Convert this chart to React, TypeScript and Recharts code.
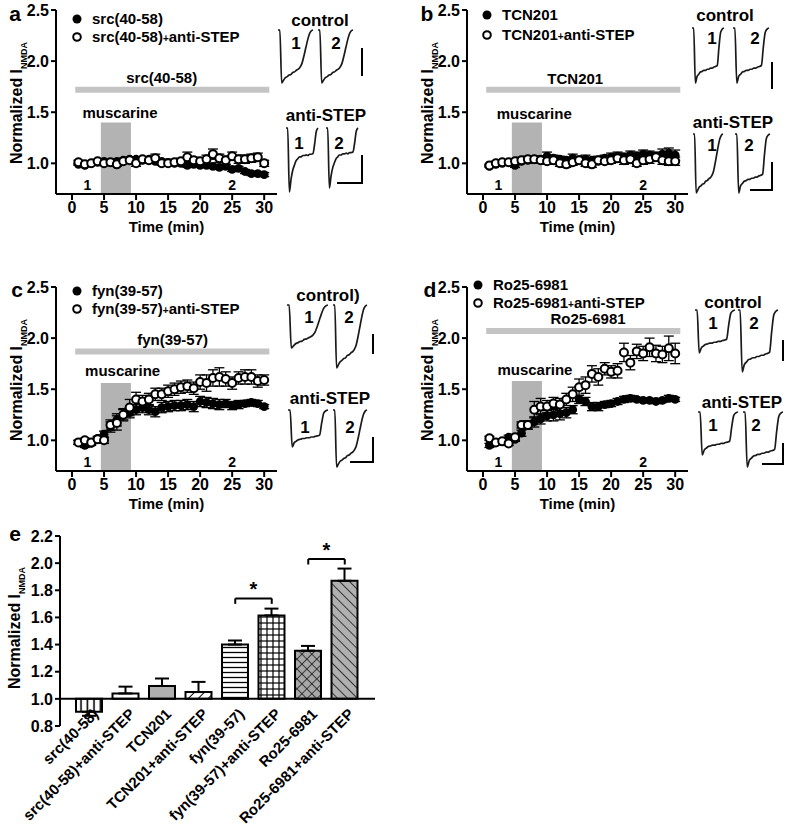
import React from 'react';
import {
  ComposedChart,
  Scatter,
  ErrorBar,
  XAxis,
  YAxis,
  ReferenceArea,
  ReferenceLine,
  ReferenceDot,
  LineChart,
  Line,
  BarChart,
  Bar,
  Cell,
} from 'recharts';

const FONT = '"Liberation Sans", Arial, sans-serif';

// time points (min)
const minutes = [1, 2, 3, 4, 5, 6, 7, 8, 9, 10, 11, 12, 13, 14, 15, 16, 17, 18, 19, 20, 21, 22, 23, 24, 25, 26, 27, 28, 29, 30];

// panel a
const srcMean = [0.99, 0.98, 1.0, 1.01, 1.02, 1.01, 1.02, 1.03, 1.04, 1.04, 1.03, 1.04, 1.02, 1.02, 1.01, 1.0, 1.0, 0.98, 0.99, 0.98, 0.98, 0.97, 0.96, 0.97, 0.94, 0.95, 0.92, 0.9, 0.9, 0.89];
const srcErr = [0.01, 0.01, 0.01, 0.02, 0.01, 0.02, 0.02, 0.02, 0.02, 0.02, 0.02, 0.02, 0.02, 0.02, 0.02, 0.02, 0.02, 0.02, 0.02, 0.02, 0.02, 0.02, 0.02, 0.02, 0.02, 0.02, 0.02, 0.02, 0.02, 0.02];
const srcStepMean = [1.01, 0.99, 1.0, 1.02, 1.0, 1.01, 0.99, 1.02, 1.03, 1.0, 1.04, 1.03, 1.05, 1.0, 1.0, 1.01, 1.02, 1.06, 1.03, 1.02, 1.04, 1.09, 1.05, 1.03, 1.07, 1.04, 1.04, 1.05, 1.06, 1.0];
const srcStepErr = [0.02, 0.02, 0.02, 0.02, 0.02, 0.02, 0.02, 0.02, 0.02, 0.03, 0.02, 0.03, 0.04, 0.02, 0.02, 0.03, 0.03, 0.05, 0.03, 0.03, 0.04, 0.05, 0.04, 0.04, 0.04, 0.04, 0.04, 0.04, 0.04, 0.03];

// panel b
const tcnMean = [0.97, 0.99, 1.0, 1.01, 0.98, 1.02, 1.03, 1.04, 1.04, 1.07, 1.05, 1.04, 1.03, 1.05, 1.03, 1.04, 1.03, 1.02, 1.05, 1.06, 1.07, 1.06, 1.08, 1.07, 1.09, 1.08, 1.07, 1.09, 1.1, 1.08];
const tcnErr = [0.01, 0.01, 0.02, 0.02, 0.02, 0.02, 0.03, 0.03, 0.03, 0.04, 0.03, 0.03, 0.03, 0.04, 0.03, 0.04, 0.03, 0.03, 0.03, 0.04, 0.04, 0.04, 0.04, 0.04, 0.04, 0.04, 0.04, 0.05, 0.05, 0.05];
const tcnStepMean = [0.98, 1.0, 1.01, 1.01, 1.02, 1.03, 1.04, 1.04, 1.03, 1.02, 1.03, 1.0, 0.99, 1.01, 1.03, 1.0, 0.99, 1.03, 1.02, 1.03, 1.05, 1.03, 1.04, 1.0, 1.03, 1.04, 1.06, 1.03, 1.02, 1.02];
const tcnStepErr = [0.01, 0.02, 0.02, 0.02, 0.02, 0.03, 0.03, 0.03, 0.03, 0.03, 0.03, 0.03, 0.03, 0.03, 0.04, 0.03, 0.03, 0.04, 0.03, 0.03, 0.04, 0.04, 0.04, 0.03, 0.04, 0.04, 0.04, 0.04, 0.04, 0.04];

// panel c
const fynMean = [0.98, 0.95, 0.97, 1.02, 1.06, 1.13, 1.2, 1.25, 1.27, 1.3, 1.32, 1.3, 1.28, 1.32, 1.33, 1.34, 1.34, 1.35, 1.33, 1.38, 1.37, 1.36, 1.35, 1.36, 1.34, 1.35, 1.36, 1.37, 1.36, 1.33];
const fynErr = [0.02, 0.02, 0.02, 0.02, 0.03, 0.05, 0.06, 0.05, 0.05, 0.05, 0.05, 0.05, 0.05, 0.05, 0.05, 0.05, 0.05, 0.05, 0.05, 0.05, 0.05, 0.05, 0.05, 0.04, 0.04, 0.04, 0.03, 0.03, 0.03, 0.02];
const fynStepMean = [0.98, 1.0, 0.98, 1.01, 1.0, 1.15, 1.17, 1.25, 1.32, 1.4, 1.38, 1.4, 1.45, 1.45, 1.48, 1.5, 1.52, 1.53, 1.51, 1.57, 1.56, 1.61, 1.62, 1.6, 1.56, 1.61, 1.62, 1.62, 1.58, 1.59];
const fynStepErr = [0.02, 0.02, 0.02, 0.02, 0.03, 0.05, 0.07, 0.06, 0.08, 0.07, 0.06, 0.06, 0.06, 0.06, 0.06, 0.06, 0.06, 0.06, 0.06, 0.07, 0.08, 0.08, 0.09, 0.07, 0.06, 0.06, 0.07, 0.07, 0.06, 0.05];

// panel d
const roMean = [0.95, 0.98, 0.99, 1.03, 1.01, 1.07, 1.15, 1.18, 1.21, 1.24, 1.25, 1.26, 1.27, 1.3, 1.4, 1.38, 1.33, 1.33, 1.35, 1.36, 1.38, 1.4, 1.41, 1.4, 1.39, 1.39, 1.38, 1.39, 1.41, 1.4];
const roErr = [0.02, 0.02, 0.02, 0.02, 0.02, 0.03, 0.04, 0.05, 0.05, 0.05, 0.06, 0.06, 0.05, 0.04, 0.04, 0.04, 0.04, 0.04, 0.03, 0.03, 0.03, 0.03, 0.03, 0.02, 0.02, 0.02, 0.02, 0.02, 0.03, 0.02];
const roStepMean = [1.02, 0.98, 0.99, 0.97, 1.03, 1.15, 1.15, 1.3, 1.33, 1.33, 1.36, 1.35, 1.4, 1.45, 1.52, 1.54, 1.65, 1.62, 1.7, 1.67, 1.68, 1.86, 1.76, 1.87, 1.85, 1.91, 1.85, 1.84, 1.9, 1.85];
const roStepErr = [0.02, 0.02, 0.02, 0.02, 0.03, 0.03, 0.04, 0.08, 0.08, 0.06, 0.06, 0.06, 0.06, 0.07, 0.08, 0.08, 0.08, 0.08, 0.06, 0.06, 0.07, 0.09, 0.07, 0.07, 0.07, 0.09, 0.08, 0.08, 0.12, 0.1];

// panel e
const groups = ['src(40-58)', 'src(40-58)+anti-STEP', 'TCN201', 'TCN201+anti-STEP', 'fyn(39-57)', 'fyn(39-57)+anti-STEP', 'Ro25-6981', 'Ro25-6981+anti-STEP'];
const groupMean = [0.905, 1.04, 1.095, 1.05, 1.4, 1.615, 1.355, 1.87];
const groupErr = [0.03, 0.05, 0.055, 0.075, 0.03, 0.05, 0.035, 0.09];

// example current traces (normalized amplitude)
const traceSlow = [0, 0, -1, -0.95, -0.9, -0.88, -0.85, -0.84, -0.8, -0.79, -0.76, -0.74, -0.7, -0.63, -0.5, -0.35, -0.2, -0.08, -0.02, 0];
const traceDecay = [0, 0, -1, -0.8, -0.66, -0.58, -0.51, -0.48, -0.45, -0.45, -0.43, -0.43, -0.42, -0.43, -0.41, -0.41, -0.4, -0.25, -0.05, 0];
const traceFlat = [0, 0, -1, -0.88, -0.84, -0.8, -0.79, -0.77, -0.77, -0.75, -0.75, -0.73, -0.73, -0.71, -0.7, -0.68, -0.35, -0.08, -0.02, 0];

const rows = (mean: number[], err: number[]) => minutes.map((t, i) => ({ t, v: mean[i], e: err[i] }));
const traceRows = (vals: number[]) => vals.map((v, i) => ({ i, v }));

const barFills = ['url(#pVert)', '#ffffff', '#b0b0b0', 'url(#pFwd)', 'url(#pHoriz)', 'url(#pGrid)', 'url(#pCross)', 'url(#pBack)'];

const tickStyle = { fontSize: 16, fontWeight: 700, fill: '#000', fontFamily: FONT };

const FilledDot = (p: any) => <circle cx={p.cx} cy={p.cy} r={4.4} fill="#000" />;
const OpenDot = (p: any) => <circle cx={p.cx} cy={p.cy} r={4} fill="#fff" stroke="#000" strokeWidth={2} />;

const textLabel = (value: string, size = 15) => ({
  value,
  position: 'center' as const,
  fill: '#000',
  fontSize: size,
  fontWeight: 700,
  fontFamily: FONT,
});

interface TraceSpec {
  vals: number[];
  x: number;
  y: number;
  w: number;
  h: number;
}

const Trace = ({ vals, x, y, w, h }: TraceSpec) => (
  <div style={{ position: 'absolute', left: x, top: y }}>
    <LineChart width={w} height={h} data={traceRows(vals)} margin={{ top: 1, right: 1, bottom: 1, left: 1 }}>
      <XAxis dataKey="i" type="number" domain={['dataMin', 'dataMax']} hide />
      <YAxis type="number" domain={[-1, 0]} hide />
      <Line dataKey="v" type="monotone" stroke="#1a1a1a" strokeWidth={1.7} dot={false} isAnimationActive={false} />
    </LineChart>
  </div>
);

interface PanelProps {
  left: number;
  top: number;
  filled: { t: number; v: number; e: number }[];
  open: { t: number; v: number; e: number }[];
  drug: string;
  drugX: number;
  drugLabelY: number;
  drugBarY: number;
  muscTop: number;
  muscX: number;
  muscLabelY: number;
}

const TimePanel = (p: PanelProps) => (
  <div style={{ position: 'absolute', left: p.left, top: p.top }}>
    <ComposedChart width={330} height={240} margin={{ top: 10, right: 53, bottom: 0, left: 8 }}>
      <XAxis
        dataKey="t"
        type="number"
        domain={[-2.5, 32]}
        ticks={[0, 5, 10, 15, 20, 25, 30]}
        allowDataOverflow
        height={46}
        tickSize={6}
        axisLine={{ stroke: '#000', strokeWidth: 2 }}
        tickLine={{ stroke: '#000', strokeWidth: 2 }}
        tick={tickStyle}
        label={{ value: 'Time (min)', position: 'insideBottom', offset: 8, fill: '#000', fontSize: 15, fontWeight: 700, fontFamily: FONT }}
      />
      <YAxis
        type="number"
        domain={[0.7, 2.5]}
        ticks={[1.0, 1.5, 2.0, 2.5]}
        allowDataOverflow
        width={48}
        tickSize={5}
        tickFormatter={(v: number) => v.toFixed(1)}
        axisLine={{ stroke: '#000', strokeWidth: 2 }}
        tickLine={{ stroke: '#000', strokeWidth: 2 }}
        tick={tickStyle}
      />
      <ReferenceArea x1={4.5} x2={9.2} y1={0.7} y2={p.muscTop} fill="#b3b3b3" fillOpacity={1} stroke="none" />
      <ReferenceLine
        segment={[{ x: 0.5, y: p.drugBarY }, { x: 30.8, y: p.drugBarY }]}
        stroke="#c4c4c4"
        strokeWidth={6}
      />
      <ReferenceDot x={p.drugX} y={p.drugLabelY} r={0} fill="none" stroke="none" label={textLabel(p.drug)} />
      <ReferenceDot x={p.muscX} y={p.muscLabelY} r={0} fill="none" stroke="none" label={textLabel('muscarine')} />
      <ReferenceDot x={2.4} y={0.79} r={0} fill="none" stroke="none" label={textLabel('1', 14)} />
      <ReferenceDot x={25} y={0.79} r={0} fill="none" stroke="none" label={textLabel('2', 14)} />
      <Scatter data={p.filled} dataKey="v" shape={FilledDot} isAnimationActive={false}>
        <ErrorBar dataKey="e" direction="y" width={5} stroke="#000" strokeWidth={1.3} />
      </Scatter>
      <Scatter data={p.open} dataKey="v" shape={OpenDot} isAnimationActive={false}>
        <ErrorBar dataKey="e" direction="y" width={5} stroke="#000" strokeWidth={1.3} />
      </Scatter>
    </ComposedChart>
  </div>
);

const YTitle = ({ x, y }: { x: number; y: number }) => (
  <text transform={`translate(${x} ${y}) rotate(-90)`} textAnchor="middle" fontSize={16} fontWeight={700} fontFamily={FONT} fill="#000">
    Normalized I
    <tspan fontSize={9} dy={5}>NMDA</tspan>
  </text>
);

const LegendRows = ({ x, y1, y2, names }: { x: number; y1: number; y2: number; names: [string, string] }) => {
  const [base] = names[1].split('+');
  return (
    <g fontFamily={FONT} fontWeight={700} fontSize={15} fill="#000">
      <circle cx={x} cy={y1} r={4.5} fill="#000" />
      <text x={x + 15} y={y1 + 5}>{names[0]}</text>
      <circle cx={x} cy={y2} r={3.8} fill="#fff" stroke="#000" strokeWidth={2} />
      <text x={x + 15} y={y2 + 5}>
        {base}
        <tspan fontSize={10}>+</tspan>
        anti-STEP
      </text>
    </g>
  );
};

const TraceLabels = ({ title, tx, ty, one, two }: { title: string; tx: number; ty: number; one: [number, number]; two: [number, number] }) => (
  <g fontFamily={FONT} fontWeight={700} fill="#000">
    <text x={tx} y={ty + 6} textAnchor="middle" fontSize={17}>{title}</text>
    <text x={one[0]} y={one[1] + 6} textAnchor="middle" fontSize={17}>1</text>
    <text x={two[0]} y={two[1] + 6} textAnchor="middle" fontSize={17}>2</text>
  </g>
);

const CategoryTick = ({ x, payload }: any) => (
  <text
    x={x + 10}
    y={215}
    transform={`rotate(-45 ${x + 10} 215)`}
    textAnchor="end"
    fontSize={15}
    fontWeight={700}
    fontFamily={FONT}
    fill="#000"
  >
    {payload.value}
  </text>
);

const barData = groups.map((g, i) => ({ g, v: groupMean[i], e: groupErr[i] }));

const App = () => {
  const traceSets: TraceSpec[] = [
    // a
    { vals: traceSlow, x: 277, y: 29, w: 37, h: 55 },
    { vals: traceSlow, x: 317, y: 29, w: 37, h: 55 },
    { vals: traceDecay, x: 285, y: 127, w: 34, h: 66 },
    { vals: traceDecay, x: 325, y: 127, w: 34, h: 62 },
    // b
    { vals: traceFlat, x: 691, y: 27, w: 34, h: 57 },
    { vals: traceFlat, x: 732, y: 27, w: 38, h: 57 },
    { vals: traceSlow, x: 692, y: 133, w: 32, h: 61 },
    { vals: traceFlat, x: 734, y: 133, w: 37, h: 61 },
    // c
    { vals: traceSlow, x: 286, y: 304, w: 43, h: 45 },
    { vals: traceSlow, x: 332, y: 304, w: 36, h: 65 },
    { vals: traceFlat, x: 287, y: 409, w: 42, h: 39 },
    { vals: traceSlow, x: 332, y: 409, w: 36, h: 59 },
    // d
    { vals: traceFlat, x: 694, y: 309, w: 42, h: 45 },
    { vals: traceFlat, x: 737, y: 309, w: 42, h: 64 },
    { vals: traceFlat, x: 697, y: 411, w: 42, h: 45 },
    { vals: traceFlat, x: 742, y: 411, w: 42, h: 57 },
  ];

  return (
    <div style={{ position: 'absolute', left: 0, top: 0, width: 787, height: 829, overflow: 'hidden', background: '#fff' }}>
      <TimePanel
        left={0}
        top={0}
        filled={rows(srcMean, srcErr)}
        open={rows(srcStepMean, srcStepErr)}
        drug="src(40-58)"
        drugX={14}
        drugLabelY={1.84}
        drugBarY={1.72}
        muscTop={1.4}
        muscX={7.5}
        muscLabelY={1.5}
      />
      <TimePanel
        left={411}
        top={0}
        filled={rows(tcnMean, tcnErr)}
        open={rows(tcnStepMean, tcnStepErr)}
        drug="TCN201"
        drugX={14.4}
        drugLabelY={1.83}
        drugBarY={1.72}
        muscTop={1.4}
        muscX={8}
        muscLabelY={1.49}
      />
      <TimePanel
        left={0}
        top={277}
        filled={rows(fynMean, fynErr)}
        open={rows(fynStepMean, fynStepErr)}
        drug="fyn(39-57)"
        drugX={15.7}
        drugLabelY={1.98}
        drugBarY={1.87}
        muscTop={1.56}
        muscX={7.9}
        muscLabelY={1.68}
      />
      <TimePanel
        left={411}
        top={277}
        filled={rows(roMean, roErr)}
        open={rows(roStepMean, roStepErr)}
        drug="Ro25-6981"
        drugX={16.4}
        drugLabelY={2.19}
        drugBarY={2.07}
        muscTop={1.58}
        muscX={8.1}
        muscLabelY={1.69}
      />

      <div style={{ position: 'absolute', left: 0, top: 500 }}>
        <BarChart width={400} height={329} data={barData} margin={{ top: 36, right: 25, bottom: 10, left: 10 }} barCategoryGap={10}>
          <defs>
            <pattern id="pVert" width="6.5" height="6" patternUnits="userSpaceOnUse">
              <rect width="6.5" height="6" fill="#fff" />
              <line x1="3" y1="0" x2="3" y2="6" stroke="#000" strokeWidth="1.6" />
            </pattern>
            <pattern id="pHoriz" width="6" height="5" patternUnits="userSpaceOnUse">
              <rect width="6" height="5" fill="#fff" />
              <line x1="0" y1="2.5" x2="6" y2="2.5" stroke="#000" strokeWidth="1.3" />
            </pattern>
            <pattern id="pGrid" width="6" height="6" patternUnits="userSpaceOnUse">
              <rect width="6" height="6" fill="#fff" />
              <line x1="3" y1="0" x2="3" y2="6" stroke="#000" strokeWidth="1.2" />
              <line x1="0" y1="3" x2="6" y2="3" stroke="#000" strokeWidth="1.2" />
            </pattern>
            <pattern id="pFwd" width="7" height="7" patternUnits="userSpaceOnUse" patternTransform="rotate(45)">
              <rect width="7" height="7" fill="#fff" />
              <line x1="0" y1="0" x2="0" y2="7" stroke="#000" strokeWidth="2" />
            </pattern>
            <pattern id="pCross" width="7" height="7" patternUnits="userSpaceOnUse" patternTransform="rotate(45)">
              <rect width="7" height="7" fill="#a8a8a8" />
              <line x1="0" y1="0" x2="0" y2="7" stroke="#000" strokeWidth="1.3" />
              <line x1="0" y1="0" x2="7" y2="0" stroke="#000" strokeWidth="1.3" />
            </pattern>
            <pattern id="pBack" width="7" height="7" patternUnits="userSpaceOnUse" patternTransform="rotate(-45)">
              <rect width="7" height="7" fill="#b0b0b0" />
              <line x1="0" y1="0" x2="0" y2="7" stroke="#000" strokeWidth="1.4" />
            </pattern>
          </defs>
          <XAxis
            dataKey="g"
            height={93}
            axisLine={false}
            tickLine={false}
            interval={0}
            padding={{ left: 11, right: 12 }}
            tick={<CategoryTick />}
          />
          <YAxis
            type="number"
            domain={[0.8, 2.2]}
            ticks={[0.8, 1.0, 1.2, 1.4, 1.6, 1.8, 2.0, 2.2]}
            allowDataOverflow
            width={50}
            tickSize={5}
            tickFormatter={(v: number) => v.toFixed(1)}
            axisLine={{ stroke: '#000', strokeWidth: 2 }}
            tickLine={{ stroke: '#000', strokeWidth: 2 }}
            tick={tickStyle}
          />
          <Bar dataKey={(d: any) => [1, d.v]} barSize={26} stroke="#000" strokeWidth={2} isAnimationActive={false}>
            {barData.map((d, i) => (
              <Cell key={d.g} fill={barFills[i]} />
            ))}
            <ErrorBar
              dataKey={(d: any) => (d.v < 1 ? [d.e, 0] : [0, d.e])}
              direction="y"
              width={7}
              stroke="#000"
              strokeWidth={2}
            />
          </Bar>
          <ReferenceLine y={1} stroke="#000" strokeWidth={2} />
          <ReferenceLine
            segment={[{ x: groups[4], y: 1.74 }, { x: groups[5], y: 1.74 }]}
            stroke="#000"
            strokeWidth={2}
            label={{ value: '*', position: 'top', offset: 2, fill: '#000', fontSize: 20, fontWeight: 700, fontFamily: FONT }}
          />
          <ReferenceLine segment={[{ x: groups[4], y: 1.74 }, { x: groups[4], y: 1.7 }]} stroke="#000" strokeWidth={2} />
          <ReferenceLine segment={[{ x: groups[5], y: 1.74 }, { x: groups[5], y: 1.7 }]} stroke="#000" strokeWidth={2} />
          <ReferenceLine
            segment={[{ x: groups[6], y: 2.03 }, { x: groups[7], y: 2.03 }]}
            stroke="#000"
            strokeWidth={2}
            label={{ value: '*', position: 'top', offset: 2, fill: '#000', fontSize: 20, fontWeight: 700, fontFamily: FONT }}
          />
          <ReferenceLine segment={[{ x: groups[6], y: 2.03 }, { x: groups[6], y: 1.99 }]} stroke="#000" strokeWidth={2} />
          <ReferenceLine segment={[{ x: groups[7], y: 2.03 }, { x: groups[7], y: 1.99 }]} stroke="#000" strokeWidth={2} />
        </BarChart>
      </div>

      {traceSets.map((t, i) => (
        <Trace key={i} {...t} />
      ))}

      <svg width={787} height={829} style={{ position: 'absolute', left: 0, top: 0, pointerEvents: 'none' }}>
        <g fontFamily={FONT} fontWeight={700} fontSize={21} fill="#000">
          <text x={15} y={21} textAnchor="middle">a</text>
          <text x={427} y={21} textAnchor="middle">b</text>
          <text x={17} y={297} textAnchor="middle">c</text>
          <text x={430} y={297} textAnchor="middle">d</text>
          <text x={15} y={541} textAnchor="middle">e</text>
        </g>
        <YTitle x={22} y={103} />
        <YTitle x={433} y={103} />
        <YTitle x={22} y={380} />
        <YTitle x={433} y={380} />
        <YTitle x={20} y={628} />

        <LegendRows x={77} y1={19} y2={37} names={['src(40-58)', 'src(40-58)+anti-STEP']} />
        <LegendRows x={487} y1={15} y2={35} names={['TCN201', 'TCN201+anti-STEP']} />
        <LegendRows x={77} y1={291} y2={309} names={['fyn(39-57)', 'fyn(39-57)+anti-STEP']} />
        <LegendRows x={478} y1={285} y2={303} names={['Ro25-6981', 'Ro25-6981+anti-STEP']} />

        <TraceLabels title="control" tx={320} ty={20} one={[296, 43]} two={[336, 43]} />
        <TraceLabels title="anti-STEP" tx={326} ty={115} one={[299, 143]} two={[339, 143]} />
        <TraceLabels title="control" tx={725} ty={15} one={[712, 38]} two={[755, 38]} />
        <TraceLabels title="anti-STEP" tx={733} ty={122} one={[712, 145]} two={[749, 145]} />
        <TraceLabels title="control)" tx={328} ty={295} one={[309, 317]} two={[349, 317]} />
        <TraceLabels title="anti-STEP" tx={330} ty={398} one={[305, 427]} two={[350, 427]} />
        <TraceLabels title="control" tx={733} ty={302} one={[713, 323]} two={[754, 323]} />
        <TraceLabels title="anti-STEP" tx={742} ty={402} one={[713, 425]} two={[756, 425]} />

        <g stroke="#000" strokeWidth={2} fill="none">
          <line x1={362} y1={48} x2={362} y2={76} />
          <polyline points="362,155 362,183 337,183" />
          <line x1={772} y1={62} x2={772} y2={89} />
          <polyline points="772,162 772,190 750,190" />
          <line x1={373} y1={334} x2={373} y2={354} />
          <polyline points="373,437 373,462 350,462" />
          <line x1={783} y1={340} x2={783} y2={361} />
          <polyline points="783,443 783,464 762,464" />
        </g>
      </svg>
    </div>
  );
};

export default App;
